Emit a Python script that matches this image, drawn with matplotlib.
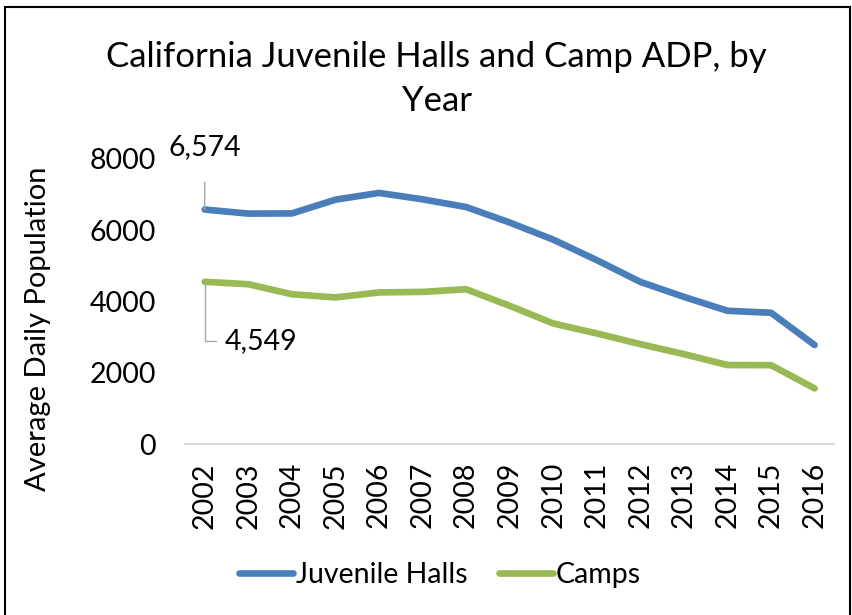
import matplotlib.pyplot as plt
from matplotlib.patches import Rectangle

plt.rcParams['font.family'] = ['Lato', 'DejaVu Sans']

years = [2002, 2003, 2004, 2005, 2006, 2007, 2008, 2009,
         2010, 2011, 2012, 2013, 2014, 2015, 2016]
halls = [6574, 6460, 6465, 6850, 7040, 6860, 6645, 6210,
         5730, 5155, 4545, 4125, 3735, 3680, 2775]
camps = [4549, 4480, 4200, 4110, 4250, 4265, 4340, 3875,
         3380, 3100, 2800, 2520, 2215, 2210, 1560]

blue = '#4a7ebb'
green = '#98b954'
fs = 20.5

fig = plt.figure(figsize=(8.53, 6.15), dpi=100)
ax = fig.add_axes([0.217, 0.278, 0.761, 0.464])

x = list(range(len(years)))
ax.plot(x, halls, color=blue, lw=4.8, solid_capstyle='round', label='Juvenile Halls')
ax.plot(x, camps, color=green, lw=4.8, solid_capstyle='round', label='Camps')

ax.set_ylim(0, 8000)
ax.set_yticks([0, 2000, 4000, 6000, 8000])
ax.set_xlim(-0.45, len(years) - 0.55)
ax.set_xticks(x)
ax.set_xticklabels([str(y) for y in years], rotation=90)
ax.tick_params(axis='both', length=0, labelsize=fs)
ax.tick_params(axis='y', pad=21)
ax.tick_params(axis='x', pad=13)
for s in ['top', 'right', 'left']:
    ax.spines[s].set_visible(False)
ax.spines['bottom'].set_color('#d9d9d9')
ax.spines['bottom'].set_linewidth(1.5)

ax.set_ylabel('Average Daily Population', fontsize=21)
ax.yaxis.set_label_coords(-0.207, 0.405)
fig.text(0.512, 0.872, 'California Juvenile Halls and Camp ADP, by\nYear',
         ha='center', va='center', fontsize=25, linespacing=1.45)

# data labels for the first year
ax.annotate(f'{halls[0]:,}', xy=(0, halls[0]), xytext=(0, 8320),
            ha='center', va='center', fontsize=fs,
            arrowprops=dict(arrowstyle='-', color='#a6a6a6', lw=1,
                            shrinkA=14, shrinkB=0))
ax.annotate(f'{camps[0]:,}', xy=(0, camps[0]), xytext=(0.45, 2900),
            ha='left', va='center', fontsize=fs,
            arrowprops=dict(arrowstyle='-', color='#a6a6a6', lw=1,
                            shrinkA=4, shrinkB=0,
                            connectionstyle='angle,angleA=0,angleB=90,rad=0'))

fig.legend(loc='center', bbox_to_anchor=(0.516, 0.065), ncol=2, frameon=False,
           fontsize=fs, handlelength=1.9, handletextpad=0.1, columnspacing=1.1)

fig.patches.append(Rectangle((0.006, -0.01), 0.99, 0.999, transform=fig.transFigure,
                             fill=False, edgecolor='black', lw=1.5))

fig.savefig('out.png', dpi=100)
